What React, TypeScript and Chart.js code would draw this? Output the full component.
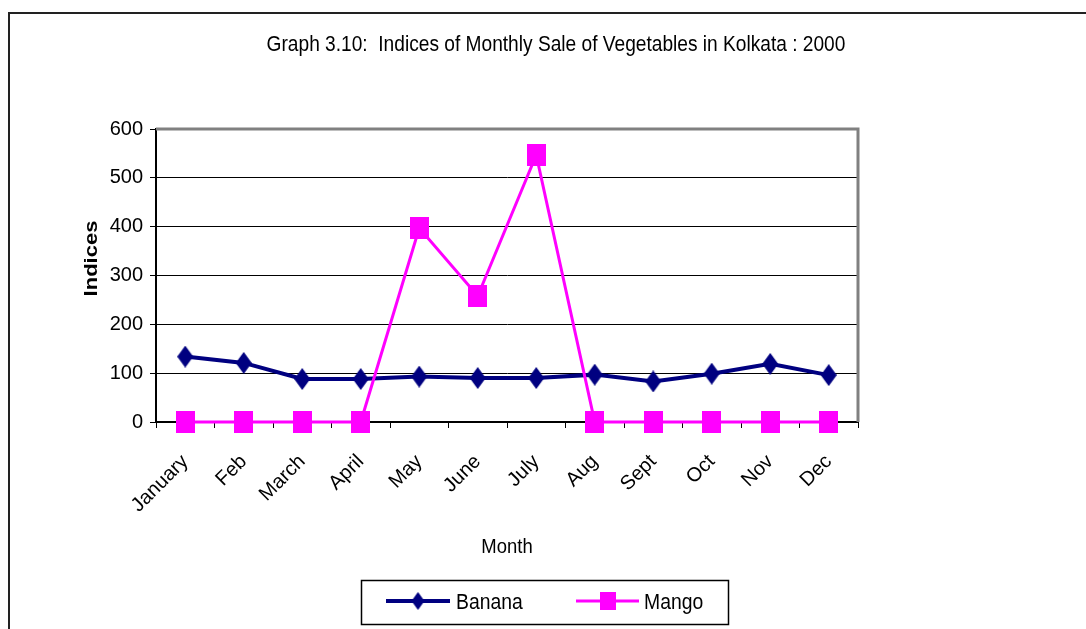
import React, { useEffect, useRef } from "react";
import { Chart, registerables } from "chart.js";

Chart.register(...registerables);

const months = ["January", "Feb", "March", "April", "May", "June", "July", "Aug", "Sept", "Oct", "Nov", "Dec"];
const banana = [134, 121, 88, 88, 93, 90, 90, 97, 83, 99, 119, 96];
const mango = [0, 0, 0, 0, 397, 258, 547, 0, 0, 0, 0, 0];
const yTicks = [0, 100, 200, 300, 400, 500, 600];

const TITLE = "Graph 3.10:  Indices of Monthly Sale of Vegetables in Kolkata : 2000";
const X_TITLE = "Month";
const Y_TITLE = "Indices";
const FONT = "'Liberation Sans', Arial, sans-serif";
const NAVY = "#000080";
const MAGENTA = "#FF00FF";

function diamond(w: number, h: number, color: string) {
  const c = document.createElement("canvas");
  c.width = w;
  c.height = h;
  const g = c.getContext("2d")!;
  g.fillStyle = color;
  g.beginPath();
  g.moveTo(w / 2, 0);
  g.lineTo(w, h / 2);
  g.lineTo(w / 2, h);
  g.lineTo(0, h / 2);
  g.closePath();
  g.fill();
  return c;
}

function square(w: number, h: number, color: string) {
  const c = document.createElement("canvas");
  c.width = w;
  c.height = h;
  const g = c.getContext("2d")!;
  g.fillStyle = color;
  g.fillRect(0, 0, w, h);
  return c;
}

function squishText(ctx: CanvasRenderingContext2D, text: string, x: number, y: number, sx: number) {
  ctx.save();
  ctx.translate(x, y);
  ctx.scale(sx, 1);
  ctx.fillText(text, 0, 0);
  ctx.restore();
}

export default function App() {
  const ref = useRef<HTMLCanvasElement | null>(null);

  useEffect(() => {
    document.body.style.margin = "0";
    const dia = diamond(16, 22, NAVY);
    const sq = square(19, 22, MAGENTA);
    const diaL = diamond(13, 18, NAVY);
    const sqL = square(16, 18, MAGENTA);

    const deco = {
      id: "deco",
      afterDraw(chart: any) {
        const ctx = chart.ctx as CanvasRenderingContext2D;
        const a = chart.chartArea;
        ctx.save();
        // outer frame
        ctx.strokeStyle = "#222";
        ctx.lineWidth = 2;
        ctx.beginPath();
        ctx.moveTo(9, 700);
        ctx.lineTo(9, 13);
        ctx.lineTo(1200, 13);
        ctx.stroke();
        // plot border top/right
        ctx.strokeStyle = "#808080";
        ctx.lineWidth = 3;
        ctx.beginPath();
        ctx.moveTo(a.left, a.top);
        ctx.lineTo(a.right, a.top);
        ctx.lineTo(a.right, a.bottom);
        ctx.stroke();
        // title
        ctx.fillStyle = "#000";
        ctx.textAlign = "center";
        ctx.textBaseline = "alphabetic";
        ctx.font = `22px ${FONT}`;
        squishText(ctx, TITLE, 556, 51, 0.87);
        // axis titles
        ctx.font = `21px ${FONT}`;
        squishText(ctx, X_TITLE, 507, 553, 0.88);
        ctx.save();
        ctx.translate(97, 258.5);
        ctx.rotate(-Math.PI / 2);
        ctx.scale(1, 0.87);
        ctx.font = `bold 22px ${FONT}`;
        ctx.fillText(Y_TITLE, 0, 0);
        ctx.restore();
        // legend
        ctx.strokeStyle = "#000";
        ctx.lineWidth = 1.5;
        ctx.strokeRect(361.5, 580.5, 367, 44);
        ctx.lineWidth = 4;
        ctx.strokeStyle = NAVY;
        ctx.beginPath();
        ctx.moveTo(386, 601);
        ctx.lineTo(450, 601);
        ctx.stroke();
        ctx.drawImage(diaL, 418 - diaL.width / 2, 601 - diaL.height / 2);
        ctx.lineWidth = 3;
        ctx.strokeStyle = MAGENTA;
        ctx.beginPath();
        ctx.moveTo(576, 601);
        ctx.lineTo(639, 601);
        ctx.stroke();
        ctx.drawImage(sqL, 608 - sqL.width / 2, 601 - sqL.height / 2);
        ctx.fillStyle = "#000";
        ctx.textAlign = "left";
        ctx.font = `22px ${FONT}`;
        squishText(ctx, chart.data.datasets[0].label, 456, 609, 0.88);
        squishText(ctx, chart.data.datasets[1].label, 644, 609, 0.88);
        ctx.restore();
      },
    };

    const chart = new Chart(ref.current!, {
      type: "line",
      data: {
        labels: months,
        datasets: [
          {
            label: "Banana",
            data: banana,
            borderColor: NAVY,
            backgroundColor: NAVY,
            borderWidth: 4,
            pointStyle: dia as any,
            pointRadius: 10,
            tension: 0,
            clip: false as any,
            order: 1,
          },
          {
            label: "Mango",
            data: mango,
            borderColor: MAGENTA,
            backgroundColor: MAGENTA,
            borderWidth: 3,
            pointStyle: sq as any,
            pointRadius: 10,
            tension: 0,
            clip: false as any,
            order: 0,
          },
        ],
      },
      plugins: [deco],
      options: {
        responsive: false,
        animation: false,
        events: [],
        layout: { padding: { top: 129, left: 96, right: 228, bottom: 87 } },
        plugins: {
          legend: { display: false },
          title: { display: false },
          tooltip: { enabled: false },
        },
        scales: {
          x: {
            offset: true,
            afterFit: (s: any) => {
              s.height = 120;
            },
            grid: {
              drawOnChartArea: false,
              drawTicks: true,
              tickLength: 6,
              color: "#000",
              offset: true,
            },
            border: { color: "#000", width: 2 },
            ticks: {
              color: "#000",
              font: { family: FONT, size: 20 },
              maxRotation: 45,
              minRotation: 45,
              autoSkip: false,
              padding: 22,
            },
          },
          y: {
            min: 0,
            max: 600,
            afterFit: (s: any) => {
              s.width = 60;
            },
            afterBuildTicks: (s: any) => {
              s.ticks = yTicks.map((v) => ({ value: v }));
            },
            grid: {
              color: (c: any) => (c.tick && c.tick.value === 600 ? "rgba(0,0,0,0)" : "#000"),
              tickColor: "#000",
              tickLength: 6,
              lineWidth: 1,
            },
            border: { color: "#000", width: 2 },
            ticks: {
              color: "#000",
              font: { family: FONT, size: 20 },
              padding: 7,
            },
          },
        },
      },
    });
    return () => chart.destroy();
  }, []);

  return (
    <div style={{ position: "fixed", left: 0, top: 0, width: 1086, height: 629, background: "#fff" }}>
      <canvas ref={ref} width={1086} height={629} />
    </div>
  );
}
